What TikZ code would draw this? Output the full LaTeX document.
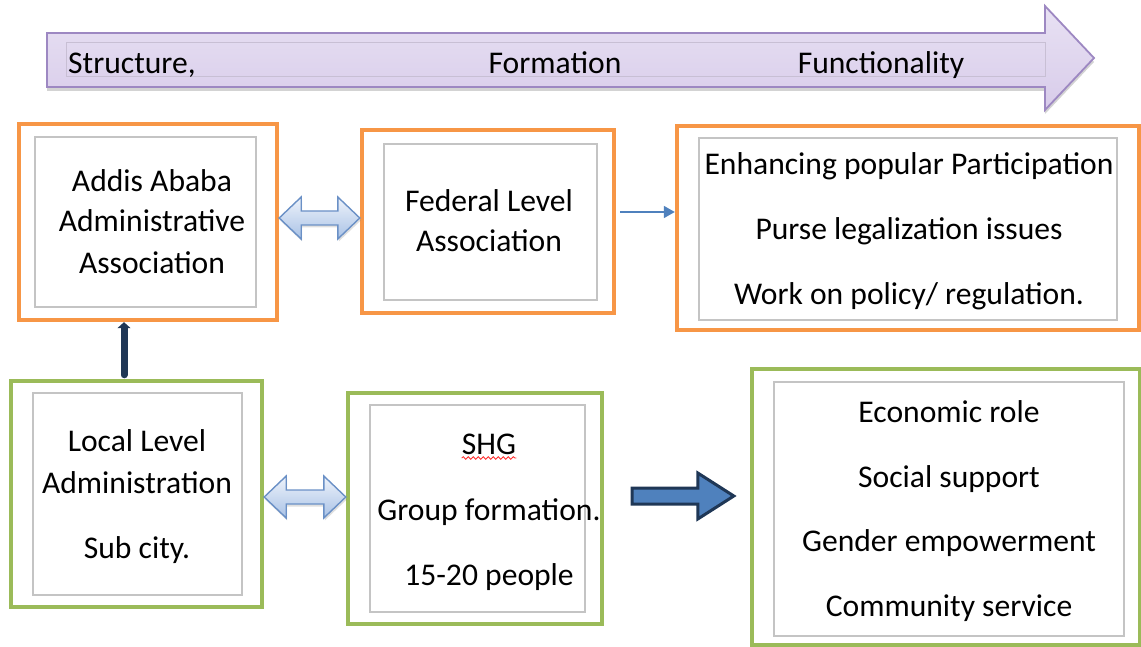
\documentclass[tikz,border=0pt]{standalone}
\usepackage{fontspec}
\setmainfont{Carlito}
\usetikzlibrary{calc,arrows.meta,shadows,decorations.pathmorphing}
\definecolor{boxorange}{HTML}{F79646}
\definecolor{boxgreen}{HTML}{9BBB59}
\definecolor{innergray}{HTML}{C4C4C4}
\definecolor{linkblue}{HTML}{4F81BD}
\definecolor{navy}{HTML}{1F3756}
\definecolor{lavtop}{HTML}{E8E1F3}
\definecolor{lavbot}{HTML}{D8CCEA}
\definecolor{lavedge}{HTML}{9D88C2}
\definecolor{bandedge}{HTML}{C8BFD4}
\definecolor{dbltop}{HTML}{EEF3FB}
\definecolor{dblbot}{HTML}{A9C2E6}
\definecolor{dbledge}{HTML}{6A90C6}
\begin{document}
\begin{tikzpicture}[x=1pt,y=-1pt,
  outerbox/.style={draw=#1, line width=4.4pt, rectangle, inner sep=0pt, fill=white},
  innerbox/.style={draw=innergray, line width=1.2pt, rectangle, inner sep=0pt},
  lbl/.style={font=\fontsize{31.6pt}{37pt}\selectfont, inner sep=0pt, anchor=base, text=black},
  dblarrow/.style={draw=dbledge, line width=1.4pt, top color=dbltop, bottom color=dblbot,
    line join=miter, drop shadow={opacity=0.25, shadow xshift=1pt, shadow yshift=-2.5pt}},
  fatarrow/.style={draw=navy, line width=3pt, fill=linkblue, line join=miter},
  thinlink/.style={draw=linkblue, line width=1.6pt, -{Triangle[length=11pt,width=12pt]}},
  uplink/.style={draw=navy, line width=7pt, line cap=round, -{Triangle[length=6pt,width=13pt]}}]
\useasboundingbox (0,0) rectangle (1141,647);

% banner arrow along the top
\path[draw=lavedge, line width=1.8pt, top color=lavtop, bottom color=lavbot, line join=miter,
  drop shadow={opacity=0.35, shadow xshift=0pt, shadow yshift=-4pt}]
  (47,33) -- (1045,33) -- (1045,6) -- (1094,58) -- (1045,110) -- (1045,87) -- (47,87) -- cycle;
\node[draw=bandedge, line width=1pt, rectangle, inner sep=0pt,
  minimum width=979pt, minimum height=34pt] (band) at (555.5,60) {};
\node[lbl, anchor=base west] (t1) at (68,74) {Structure,};
\node[lbl] (t2) at (555,74) {Formation};
\node[lbl] (t3) at (881,74) {Functionality};

% upper row: associations and their functions
\node[outerbox=boxorange, minimum width=258pt, minimum height=196pt] (A) at (148,222) {};
\node[innerbox, minimum width=221pt, minimum height=170pt] (Ai) at (145.5,222) {};
\node[lbl] (a1) at (152,192) {Addis Ababa};
\node[lbl] (a2) at (152,232) {Administrative};
\node[lbl] (a3) at (152,274) {Association};

\node[outerbox=boxorange, minimum width=252pt, minimum height=183pt] (F) at (488,221.5) {};
\node[innerbox, minimum width=213pt, minimum height=156pt] (Fi) at (490.5,222) {};
\node[lbl] (f1) at (489,212) {Federal Level};
\node[lbl] (f2) at (489,252) {Association};

\node[outerbox=boxorange, minimum width=462pt, minimum height=204pt] (E) at (908,228) {};
\node[innerbox, minimum width=418pt, minimum height=182pt] (Ei) at (908,229) {};
\node[lbl] (e1) at (909,175) {Enhancing popular Participation};
\node[lbl] (e2) at (909,240) {Purse legalization issues};
\node[lbl] (e3) at (909,304) {Work on policy/ regulation.};

% lower row: local level, self-help groups and their roles
\node[outerbox=boxgreen, minimum width=251pt, minimum height=226pt] (L) at (136.5,494) {};
\node[innerbox, minimum width=209pt, minimum height=202pt] (Li) at (137.5,494) {};
\node[lbl] (l1) at (137,451) {Local Level};
\node[lbl] (l2) at (137,493) {Administration};
\node[lbl] (l3) at (137,558) {Sub city.};

\node[outerbox=boxgreen, minimum width=254pt, minimum height=231pt] (S) at (475,508.5) {};
\node[innerbox, minimum width=215pt, minimum height=207pt] (Si) at (477.5,508.5) {};
\node[lbl] (s1) at (489,454) {SHG};
\node[lbl] (s2) at (489,520) {Group formation.};
\node[lbl] (s3) at (489,585) {15-20 people};
\draw[red!85!white, line width=0.8pt, decorate,
  decoration={snake, amplitude=1.3pt, segment length=5pt}]
  ($(s1.base west)+(0,-4pt)$) -- ($(s1.base east)+(0,-4pt)$);

\node[outerbox=boxgreen, minimum width=388pt, minimum height=276pt] (C) at (946,507) {};
\node[innerbox, minimum width=350pt, minimum height=254pt] (Ci) at (949,509) {};
\node[lbl] (c1) at (949,422) {Economic role};
\node[lbl] (c2) at (949,487) {Social support};
\node[lbl] (c3) at (949,551) {Gender empowerment};
\node[lbl] (c4) at (949,616) {Community service};

% two-way links
\coordinate (ab) at ($(A.east)+(0,4pt)$);
\coordinate (fb) at (ab -| F.west);
\path[dblarrow] (ab) -- ++(22pt,21pt) -- ++(0,-14pt) -- ($(fb)+(-22pt,7pt)$) -- ++(0,14pt)
  -- (fb) -- ++(-22pt,-21pt) -- ++(0,14pt) -- ($(ab)+(22pt,-7pt)$) -- ++(0,-14pt) -- cycle;

\coordinate (lb) at ($(L.east)+(0,-3pt)$);
\coordinate (sb) at (lb -| S.west);
\path[dblarrow] (lb) -- ++(22pt,21pt) -- ++(0,-14pt) -- ($(sb)+(-22pt,7pt)$) -- ++(0,14pt)
  -- (sb) -- ++(-22pt,-21pt) -- ++(0,14pt) -- ($(lb)+(22pt,-7pt)$) -- ++(0,-14pt) -- cycle;

% one-way links
\coordinate (fe) at ($(F.east)+(4pt,9.5pt)$);
\draw[thinlink] (fe) -- (fe -| E.west);

\coordinate (la) at ($(L.north)+(-12.5pt,4pt)$);
\draw[uplink] (la) -- (la |- A.south);

\coordinate (sc0) at ($(S.east)+(28pt,12.5pt)$);
\coordinate (sc1) at ($(sc0 -| C.west)+(-16pt,0)$);
\path[fatarrow] ($(sc0)+(0,8pt)$) -- ($(sc1)+(-36pt,8pt)$) -- ++(0,15pt) -- (sc1)
  -- ($(sc1)+(-36pt,-23pt)$) -- ++(0,15pt) -- ($(sc0)+(0,-8pt)$) -- cycle;
\end{tikzpicture}
\end{document}
